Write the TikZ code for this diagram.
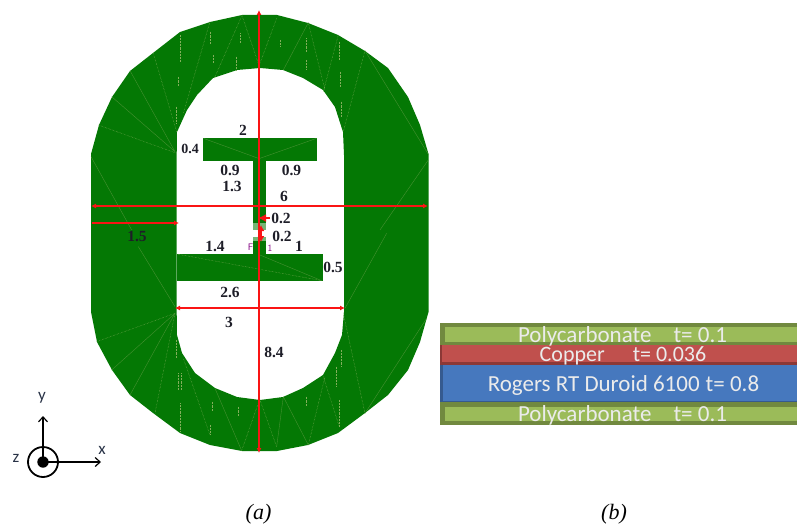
\documentclass[tikz,border=0pt]{standalone}
\usepackage{fontspec}
\setmainfont{Liberation Serif}
\newfontfamily\carl{Carlito}
\usetikzlibrary{arrows.meta}
\definecolor{pgreen}{RGB}{4,120,4}
\definecolor{lime}{RGB}{155,187,89}
\definecolor{limedk}{RGB}{113,137,63}
\definecolor{copperc}{RGB}{192,80,77}
\definecolor{copperd}{RGB}{140,56,54}
\definecolor{rogers}{RGB}{70,120,190}
\definecolor{redl}{RGB}{250,20,20}
\definecolor{dimt}{RGB}{30,30,40}
\definecolor{meshl}{RGB}{130,175,90}
\definecolor{meshf}{RGB}{70,145,50}
\definecolor{axt}{RGB}{40,50,70}
\tikzset{
 dimlab/.style={font=\fontsize{15.5pt}{16pt}\selectfont\bfseries,text=dimt,inner sep=0pt},
 redline/.style={draw=redl,line width=1.7pt},
 redarrow/.style={redline,{Latex[length=5pt,width=5pt]}-{Latex[length=5pt,width=5pt]}},
 meshd/.style={draw=meshl,line width=0.45pt,densely dotted},
 meshs/.style={draw=meshf,line width=0.4pt},
 layertxt/.style={font=\carl\fontsize{23pt}{24pt}\selectfont,text=white!92!black,inner sep=0pt,text height=15pt,text depth=0pt},
 axlab/.style={font=\carl\fontsize{17pt}{18pt}\selectfont,text=axt,inner sep=0pt},
 axline/.style={draw=black,line width=1.2pt},
 caption/.style={font=\itshape\fontsize{22pt}{24pt}\selectfont,inner sep=0pt},
 portlab/.style={inner sep=0pt,font=\sffamily\fontsize{9.5pt}{10pt}\selectfont,text=violet}
}
\begin{document}
\begin{tikzpicture}[x=1pt,y=-1pt]
\useasboundingbox (0,0) rectangle (797,527);
% slot antenna ring
\fill[pgreen,even odd rule]
 (91,154) -- (99,125) -- (112,97) -- (130,71) -- (153,53) -- (180,32) -- (210,22) -- (242,15) -- (277,15) -- (308,23) -- (338,35) -- (365,51) -- (388,68) -- (408,97) -- (420,125) -- (428.5,154)
 -- (428.5,312) -- (420,342) -- (408,370) -- (388,395) -- (365,413) -- (338,433) -- (308,445) -- (277,451) -- (242,451) -- (210,445) -- (180,433) -- (153,413) -- (130,395) -- (112,370) -- (97,342) -- (91,312) -- cycle
 (176.7,155) -- (177,132) -- (187,110) -- (197,95) -- (213,78) -- (237,70) -- (260,68) -- (283,70) -- (303,78) -- (323,90) -- (335,107) -- (343,132) -- (344,155)
 -- (344,312) -- (342,335) -- (335,353) -- (323,375) -- (303,388) -- (283,397) -- (260,400) -- (237,397) -- (215,388) -- (195,373) -- (182,353) -- (177,335) -- (176.7,312) -- cycle;
% T and feed
\fill[pgreen] (203,138) rectangle (316.7,161);
\fill[pgreen] (253,161) rectangle (266,223);
\fill[pgreen!55!white] (253,223) rectangle (266,230);
\fill[pgreen!55!white] (253,237) rectangle (266,241);
\fill[pgreen] (253,241) rectangle (266,254);
\fill[pgreen] (176.7,253.5) rectangle (322.5,281);
% mesh, upper half (coordinates of a 3x crop)
\begin{scope}[x=0.3333pt,y=-0.3333pt,shift={(80pt,0pt)}]
\draw[meshd] (486,46)--(403,235) (486,46)--(535,190) (590,55)--(540,190) (685,68)--(735,270) (775,105)--(730,275) (855,152)--(790,395) (390,65)--(310,340) (220,160)--(290,395) (55,375)--(290,460);
\draw[meshs] (685,68)--(610,210) (855,152)--(1045,463) (95,290)--(285,455) (150,212)--(285,455) (370,415)--(535,475) (710,415)--(540,475) (33,470)--(155,690) (1045,480)--(900,690);
\draw[meshd] (300,105)--(300,185) (295,230)--(295,260) (392,95)--(392,130) (400,165)--(400,190) (480,100)--(480,130) (470,170)--(470,210) (600,120)--(600,140) (680,115)--(680,155) (678,180)--(678,210) (777,125)--(777,180) (782,215)--(782,260) (785,305)--(785,350) (290,320)--(290,370);
\end{scope}
% mesh, lower half
\begin{scope}[x=0.3333pt,y=-0.3333pt,shift={(80pt,-230pt)}]
\draw[meshd] (485,662)--(535,520) (590,650)--(540,510) (685,645)--(735,440) (778,590)--(730,440) (855,550)--(790,250) (390,615)--(310,385) (225,550)--(285,250) (50,335)--(285,250) (290,72)--(725,152);
\draw[meshs] (485,662)--(405,475) (590,650)--(610,500) (685,645)--(610,500) (855,550)--(1040,265) (95,420)--(285,250) (150,495)--(285,250) (175,50)--(285,230) (920,10)--(795,235) (540,75)--(725,152);
\draw[meshd] (300,520)--(300,605) (295,430)--(295,480) (305,430)--(305,480) (398,515)--(398,545) (392,585)--(392,615) (475,530)--(475,560) (680,500)--(680,530) (770,410)--(770,470) (778,510)--(778,590) (785,360)--(785,410) (290,330)--(290,385);
\end{scope}
% red dimension lines
\draw[redarrow] (259,453) -- (259,10);
\draw[redarrow] (91,206) -- (428,206);
\draw[redline,-{Latex[length=5pt,width=5pt]}] (92,223) -- (179,223);
\draw[redarrow] (175,308) -- (345,308);
\draw[redline,-{Latex[length=8pt,width=8pt]}] (270,218) -- (258,218);
\draw[redline,{Latex[length=6pt,width=7pt]}-{Latex[length=6pt,width=7pt]}] (261,225) -- (261,242);
% dimension labels
\node[dimlab] (l2) at (243,130.5) {2};
\node[dimlab,font=\fontsize{14pt}{15pt}\selectfont\bfseries] (l04) at (190,149) {0.4};
\node[dimlab] (l09a) at (230,170) {0.9};
\node[dimlab] (l09b) at (291.5,170) {0.9};
\node[dimlab] (l13) at (232,186) {1.3};
\node[dimlab] (l6) at (284,196) {6};
\node[dimlab] (l02a) at (281,218) {0.2};
\node[dimlab] (l02b) at (282,236) {0.2};
\node[dimlab] (l15) at (137,236) {1.5};
\node[dimlab] (l14) at (215,246) {1.4};
\node[dimlab] (l1) at (299,246) {1};
\node[dimlab] (l05) at (333,267) {0.5};
\node[dimlab] (l26) at (230,292) {2.6};
\node[dimlab] (l3) at (229,322) {3};
\node[dimlab] (l84) at (274,352) {8.4};
\node[portlab] (fp) at (250.5,247.5) {F};
\node[portlab] (fn) at (270,248) {1};
% layers
\fill[limedk] (440,323) rectangle (797,345);
\fill[lime] (444.5,327) rectangle (797,342);
\fill[copperd] (440,345) rectangle (797,365);
\fill[copperc] (442,345) rectangle (797,362);
\fill[rogers!75!black] (440,365) rectangle (797,402);
\fill[rogers] (443,365) rectangle (797,401);
\fill[limedk] (440,402) rectangle (797,425);
\fill[lime] (444.5,407) rectangle (797,421);
\node[layertxt,anchor=base] (p1) at (622.5,342) {Polycarbonate\hspace{22pt}t= 0.1};
\node[layertxt,anchor=base,font=\carl\fontsize{22pt}{24pt}\selectfont] (cu) at (623,361.5) {Copper\hspace{28pt}t= 0.036};
\node[layertxt,anchor=base] (ro) at (623.5,391) {Rogers RT Duroid 6100\hspace{6pt}t= 0.8};
\node[layertxt,anchor=base] (p2) at (622.5,421.5) {Polycarbonate\hspace{22pt}t= 0.1};
% axes
\coordinate (o) at (43,462);
\coordinate (ya) at (43,416);
\coordinate (xa) at (101,462);
\draw[axline,-{Straight Barb[length=5pt,width=9pt]}] (o) -- (ya);
\draw[axline,-{Straight Barb[length=5pt,width=9pt]}] (o) -- (xa);
\draw[draw=black,line width=1.8pt] (o) circle (15);
\fill[black] (o) circle (5.7);
\node[axlab,anchor=base] (ly) at (42,400) {y};
\node[axlab,anchor=base] (lx) at (102,454) {x};
\node[axlab,anchor=base] (lz) at (16,462) {z};
% captions
\node[caption] (ca) at (258.5,514) {(a)};
\node[caption] (cb) at (614,514) {(b)};
\end{tikzpicture}
\end{document}
